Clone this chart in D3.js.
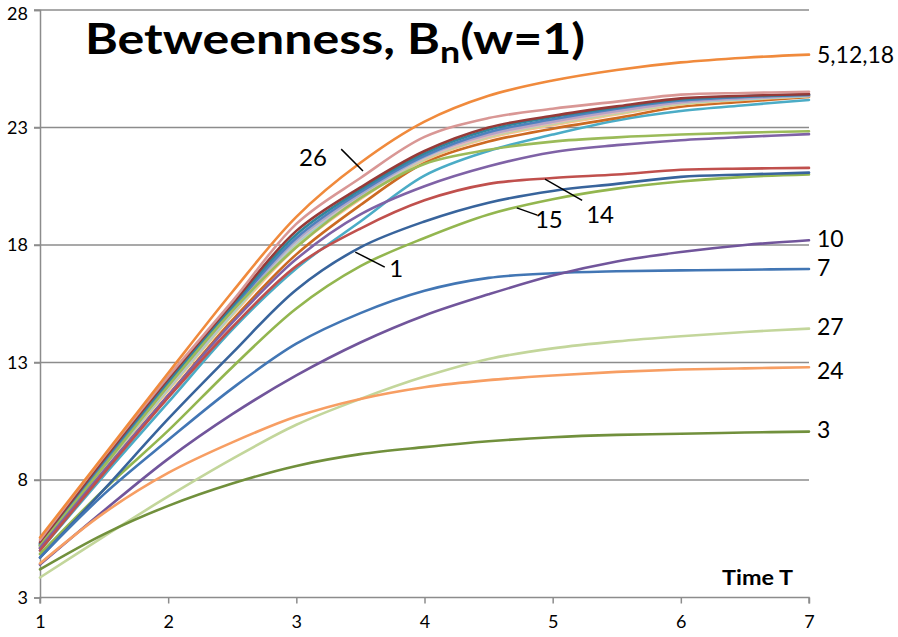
<!DOCTYPE html>
<html>
<head>
<meta charset="utf-8">
<script src="https://cdn.jsdelivr.net/npm/d3@7"></script>
<style>
  html, body { margin: 0; padding: 0; background: #ffffff; }
  svg { display: block; }
  text { font-family: Lato, "Open Sans", "DejaVu Sans", sans-serif; }
</style>
</head>
<body>
<svg id="chart" width="898" height="637"></svg>
<script>
// ---------------- DATA ----------------
const times = [1, 1.5, 2, 2.5, 3, 3.5, 4, 4.5, 5, 5.5, 6, 6.5, 7];
const yTicks = [3, 8, 13, 18, 23, 28];
const xTicks = [1, 2, 3, 4, 5, 6, 7];

// node series (betweenness B_n over time)
const n5_12_18 = [5.55, 9.05, 12.55, 16.0, 19.2, 21.5, 23.25, 24.35, 25.0, 25.45, 25.77, 25.97, 26.1];
const n26      = [5.45, 9.0, 12.4, 15.6, 18.9, 20.85, 22.6, 23.4, 23.8, 24.1, 24.4, 24.47, 24.52];
const n2       = [5.35, 8.9, 12.3, 15.5, 18.6, 20.45, 22.0, 23.0, 23.5, 23.9, 24.24, 24.35, 24.42];
const n4       = [5.3, 8.85, 12.2, 15.4, 18.45, 20.35, 21.9, 22.9, 23.45, 23.85, 24.2, 24.33, 24.4];
const n6       = [5.25, 8.75, 12.1, 15.3, 18.3, 20.25, 21.8, 22.8, 23.35, 23.8, 24.15, 24.3, 24.38];
const n8       = [5.2, 8.7, 12.0, 15.2, 18.2, 20.15, 21.75, 22.75, 23.3, 23.75, 24.1, 24.28, 24.37];
const n9       = [5.3, 8.7, 12.05, 15.25, 18.25, 20.2, 21.8, 22.7, 23.25, 23.7, 24.08, 24.25, 24.36];
const n11      = [5.15, 8.6, 11.9, 15.1, 18.1, 20.05, 21.7, 22.65, 23.2, 23.65, 24.05, 24.22, 24.35];
const n13      = [5.2, 8.55, 11.8, 15.0, 17.9, 19.95, 21.6, 22.55, 23.1, 23.55, 23.98, 24.18, 24.33];
const n16      = [5.25, 8.65, 11.95, 15.15, 18.15, 20.1, 21.7, 22.65, 23.2, 23.65, 24.05, 24.25, 24.38];
const n17      = [5.2, 8.6, 11.85, 15.05, 18.0, 20.0, 21.65, 22.6, 23.15, 23.6, 24.0, 24.2, 24.34];
const n19      = [5.1, 8.4, 11.6, 14.8, 17.6, 19.7, 21.5, 22.4, 22.95, 23.4, 23.88, 24.1, 24.3];
const n20      = [5.0, 8.2, 11.3, 14.4, 17.0, 19.0, 20.95, 22.0, 22.7, 23.3, 23.7, 23.95, 24.17];
const n21      = [5.2, 8.6, 12.0, 15.2, 17.9, 20.0, 21.45, 22.05, 22.4, 22.58, 22.7, 22.78, 22.84];
const n22      = [5.1, 8.4, 11.6, 14.7, 17.4, 19.3, 20.5, 21.35, 21.95, 22.25, 22.46, 22.6, 22.72];
const n14      = [5.0, 8.3, 11.5, 14.5, 17.1, 18.7, 19.9, 20.6, 20.85, 21.0, 21.2, 21.25, 21.28];
const n1       = [4.7, 7.6, 10.6, 13.4, 16.1, 17.9, 19.0, 19.8, 20.3, 20.6, 20.9, 21.0, 21.08];
const n15      = [4.85, 7.6, 10.1, 12.8, 15.3, 17.1, 18.3, 19.3, 19.95, 20.4, 20.7, 20.9, 21.0];
const n7       = [4.7, 7.4, 9.7, 11.9, 13.8, 15.1, 16.05, 16.6, 16.8, 16.88, 16.92, 16.95, 16.98];
const n10      = [4.4, 6.7, 8.9, 10.8, 12.45, 13.85, 15.0, 15.9, 16.7, 17.3, 17.7, 18.0, 18.2];
const n27      = [3.85, 5.6, 7.3, 8.9, 10.35, 11.45, 12.4, 13.15, 13.6, 13.9, 14.12, 14.3, 14.44];
const n24      = [4.45, 6.6, 8.3, 9.6, 10.7, 11.45, 11.95, 12.25, 12.45, 12.6, 12.7, 12.75, 12.8];
const n3       = [4.2, 5.7, 6.9, 7.85, 8.6, 9.1, 9.4, 9.65, 9.82, 9.92, 9.97, 10.02, 10.06];

const seriesNames = ["n20","n19","n13","n17","n11","n16","n8","n9","n6","n4","n2","n26",
                     "n21","n22","n14","n15","n1","n7","n10","n27","n24","n3","n5_12_18"];
const seriesValues = {n5_12_18, n26, n2, n4, n6, n8, n9, n11, n13, n16, n17, n19, n20,
                      n21, n22, n14, n1, n15, n7, n10, n27, n24, n3};

// end-of-line labels and inner labels (text)
const endLabels = [["n5_12_18", "5,12,18"], ["n10", "10"], ["n7", "7"], ["n27", "27"], ["n24", "24"], ["n3", "3"]];
const innerLabels = [
  {text: "26", tx: 3.13, ty: 21.6, x1: 3.35, y1: 22.08, x2: 3.52, y2: 21.15},
  {text: "1",  tx: 3.78, ty: 16.88, x1: 3.46, y1: 17.7, x2: 3.69, y2: 17.06},
  {text: "15", tx: 4.97, ty: 18.97, x1: 4.72, y1: 19.58, x2: 4.88, y2: 19.27},
  {text: "14", tx: 5.37, ty: 19.18, x1: 4.94, y1: 20.8, x2: 5.23, y2: 19.9}
];

// ---------------- STYLE ----------------
const colors = {
  n5_12_18: "#F08A3C", n26: "#D99795", n2: "#963A38", n4: "#31859C", n6: "#4F81BD",
  n8: "#95B3D7", n9: "#B3A2C7", n11: "#93CDDD", n13: "#FAC090", n16: "#E6B9B8",
  n17: "#C3D69B", n19: "#CC6A22", n20: "#4BACC6", n21: "#9BBB59", n22: "#7F62A6",
  n14: "#C0504D", n1: "#38649C", n15: "#93B64F", n7: "#4276B4", n10: "#71559B",
  n27: "#C3D69B", n24: "#F79E63", n3: "#71903C"
};

const svg = d3.select("#chart");
const x = d3.scaleLinear().domain([1, 7]).range([40, 809]);
const y = d3.scaleLinear().domain([3, 28]).range([597.5, 10]);

// gridlines
svg.append("g").selectAll("line").data(yTicks.filter(d => d > 3)).join("line")
  .attr("x1", 34).attr("x2", x(7))
  .attr("y1", d => y(d)).attr("y2", d => y(d))
  .attr("stroke", "#8c8c8c").attr("stroke-width", 1.5);

// axes
const yAxis = svg.append("g").attr("transform", `translate(${x(1)},0)`)
  .call(d3.axisLeft(y).tickValues(yTicks).tickSize(6).tickPadding(6).tickFormat(d3.format("d")));
const xAxis = svg.append("g").attr("transform", `translate(0,${y(3)})`)
  .call(d3.axisBottom(x).tickValues(xTicks).tickSize(6).tickPadding(12).tickFormat(d3.format("d")));
[yAxis, xAxis].forEach(g => {
  g.select(".domain").attr("stroke", "#8c8c8c").attr("stroke-width", 1.5);
  g.selectAll(".tick line").attr("stroke", "#8c8c8c").attr("stroke-width", 1.5);
  g.selectAll(".tick text").attr("fill", "#000").style("font-size", "18px")
    .style("font-family", "Lato, 'Open Sans', sans-serif");
});
yAxis.selectAll(".tick text").filter(d => d === 28).attr("dy", "0.5em");
xAxis.select(".domain").attr("d", `M${x(1)},6V0H${x(7)}V6`);

// lines
const line = d3.line().x((d, i) => x(times[i])).y(d => y(d)).curve(d3.curveCatmullRom.alpha(0.5));
svg.append("g").selectAll("path").data(seriesNames).join("path")
  .attr("d", k => line(seriesValues[k]))
  .attr("fill", "none")
  .attr("stroke", k => colors[k])
  .attr("stroke-width", 2.6)
  .attr("stroke-linejoin", "round").attr("stroke-linecap", "round");

// end labels
svg.append("g").selectAll("text").data(endLabels).join("text")
  .attr("x", x(7) + 8)
  .attr("y", d => y(seriesValues[d[0]][times.length - 1]) + (d[0] === "n24" ? 6 : (d[0] === "n5_12_18" ? 3 : 1)))
  .attr("dominant-baseline", "middle")
  .style("font-size", "23px").attr("fill", "#000")
  .text(d => d[1]);

// inner labels with leader lines
const inner = svg.append("g");
inner.selectAll("line").data(innerLabels).join("line")
  .attr("x1", d => x(d.x1)).attr("y1", d => y(d.y1))
  .attr("x2", d => x(d.x2)).attr("y2", d => y(d.y2))
  .attr("stroke", "#000").attr("stroke-width", 1.5);
inner.selectAll("text").data(innerLabels).join("text")
  .attr("x", d => x(d.tx)).attr("y", d => y(d.ty))
  .attr("text-anchor", "middle").attr("dominant-baseline", "middle")
  .style("font-size", "24px").attr("fill", "#000")
  .text(d => d.text);

// title
const title = svg.append("text").attr("x", 85).attr("y", 54)
  .attr("textLength", 500).attr("lengthAdjust", "spacingAndGlyphs")
  .style("font-size", "42px").style("font-weight", "bold").attr("fill", "#000");
title.append("tspan").text("Betweenness, B");
title.append("tspan").attr("dy", 9).style("font-size", "30px").text("n");
title.append("tspan").attr("dy", -9).text("(w=1)");

// x-axis title
svg.append("text").attr("x", 722).attr("y", 585)
  .attr("textLength", 71).attr("lengthAdjust", "spacingAndGlyphs")
  .style("font-size", "20px").style("font-weight", "bold").attr("fill", "#000")
  .text("Time T");
</script>
</body>
</html>
